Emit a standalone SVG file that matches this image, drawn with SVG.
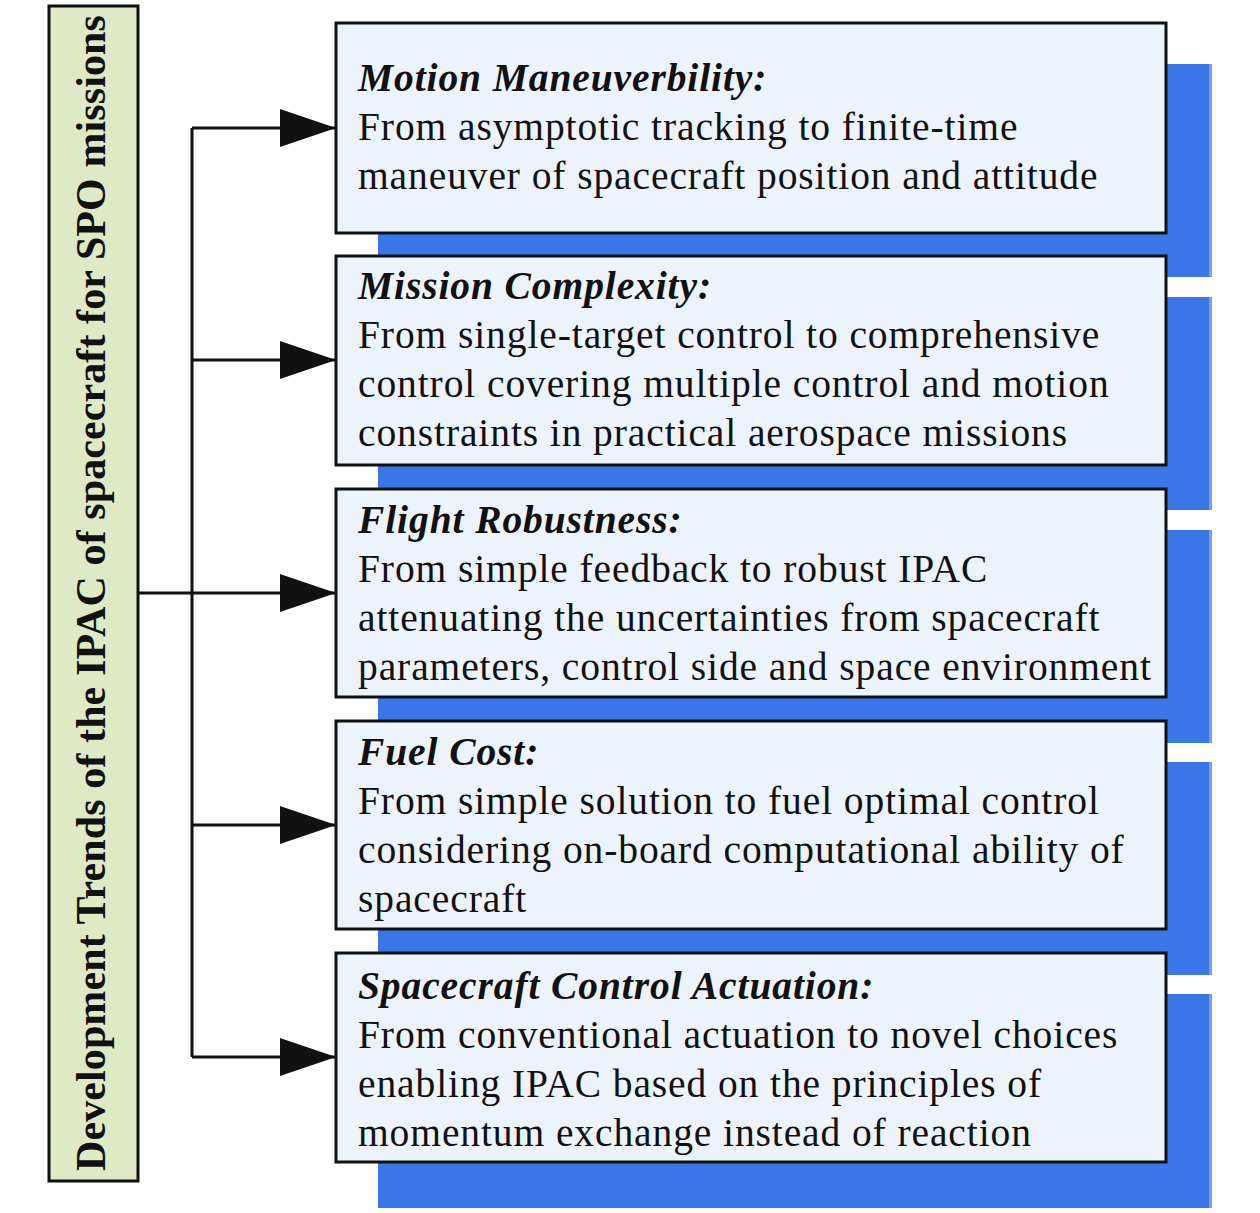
<svg xmlns="http://www.w3.org/2000/svg" width="1260" height="1213" viewBox="0 0 1260 1213">
<style>
.shadow{fill:#3a77e9}
.edge{fill:#7d9ee6}
.box{fill:#edf3fa;stroke:#111;stroke-width:3}
.t{font-family:"Liberation Serif",serif;font-size:39.5px;letter-spacing:0.9px;fill:#111}
.h{font-weight:bold;font-style:italic}
.conn{stroke:#111;stroke-width:3;fill:none}
</style>
<defs>
<marker id="ah" markerUnits="userSpaceOnUse" markerWidth="58" markerHeight="40" refX="56" refY="19" orient="auto">
<polygon points="0,0 56,19 0,38" fill="#111"/>
</marker>
</defs>
<rect width="1260" height="1213" fill="#fff"/>
<g id="root">
<rect x="49" y="6" width="89" height="1175" fill="#dfe9c5" stroke="#111" stroke-width="3"/>
<text font-family="Liberation Serif,serif" fill="#111" font-weight="bold" font-size="42" letter-spacing="0.1" transform="translate(105,593) rotate(-90)" text-anchor="middle">Development Trends of the IPAC of spacecraft for SPO missions</text>
</g>
<g id="connectors">
<path class="conn" d="M138,593 H192 M192,128 V1057"/>
<path class="conn" d="M192,128 H336" marker-end="url(#ah)"/>
<path class="conn" d="M192,360 H336" marker-end="url(#ah)"/>
<path class="conn" d="M192,593 H336" marker-end="url(#ah)"/>
<path class="conn" d="M192,825 H336" marker-end="url(#ah)"/>
<path class="conn" d="M192,1057 H336" marker-end="url(#ah)"/>
</g>
<g id="node1">
<rect class="shadow" x="378" y="64" width="832" height="213"/>
<rect class="edge" x="1209" y="64" width="3" height="213"/>
<rect class="box" x="336" y="23" width="830" height="210"/>
<text class="t"><tspan class="h" x="358" y="91">Motion Maneuverbility:</tspan><tspan x="358" y="140">From asymptotic tracking to finite-time</tspan><tspan x="358" y="189">maneuver of spacecraft position and attitude</tspan></text>
</g>
<g id="node2">
<rect class="shadow" x="378" y="297" width="832" height="213"/>
<rect class="edge" x="1209" y="297" width="3" height="213"/>
<rect class="box" x="336" y="256" width="830" height="209"/>
<text class="t"><tspan class="h" x="358" y="299">Mission Complexity:</tspan><tspan x="358" y="348">From single-target control to comprehensive</tspan><tspan x="358" y="397">control covering multiple control and motion</tspan><tspan x="358" y="446">constraints in practical aerospace missions</tspan></text>
</g>
<g id="node3">
<rect class="shadow" x="378" y="530" width="832" height="213"/>
<rect class="edge" x="1209" y="530" width="3" height="213"/>
<rect class="box" x="336" y="489" width="830" height="208"/>
<text class="t"><tspan class="h" x="358" y="533">Flight Robustness:</tspan><tspan x="358" y="582">From simple feedback to robust IPAC</tspan><tspan x="358" y="631">attenuating the uncertainties from spacecraft</tspan><tspan x="358" y="680">parameters, control side and space environment</tspan></text>
</g>
<g id="node4">
<rect class="shadow" x="378" y="762" width="832" height="213"/>
<rect class="edge" x="1209" y="762" width="3" height="213"/>
<rect class="box" x="336" y="721" width="830" height="208"/>
<text class="t"><tspan class="h" x="358" y="765">Fuel Cost:</tspan><tspan x="358" y="814">From simple solution to fuel optimal control</tspan><tspan x="358" y="863">considering on-board computational ability of</tspan><tspan x="358" y="912">spacecraft</tspan></text>
</g>
<g id="node5">
<rect class="shadow" x="378" y="994" width="832" height="214"/>
<rect class="edge" x="1209" y="994" width="3" height="214"/>
<rect class="box" x="336" y="953" width="830" height="209"/>
<text class="t"><tspan class="h" x="358" y="999">Spacecraft Control Actuation:</tspan><tspan x="358" y="1048">From conventional actuation to novel choices</tspan><tspan x="358" y="1097">enabling IPAC based on the principles of</tspan><tspan x="358" y="1146">momentum exchange instead of reaction</tspan></text>
</g>
</svg>
